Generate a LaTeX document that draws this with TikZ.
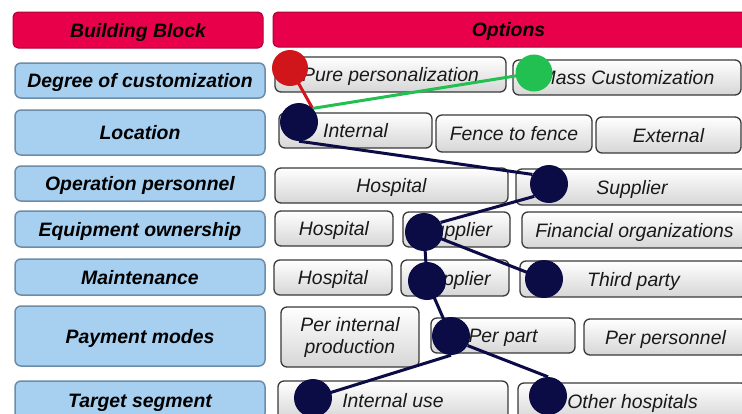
\documentclass[tikz,border=0pt]{standalone}
\usepackage{fontspec}
\setmainfont{Liberation Sans}
\definecolor{hdrred}{HTML}{E8004B}
\definecolor{bluefill}{HTML}{A7D0F0}
\definecolor{blueedge}{HTML}{6C8CA8}
\definecolor{optedge}{HTML}{3A3A3A}
\definecolor{optgray}{HTML}{D6D6D6}
\definecolor{navy}{HTML}{0B0B45}
\definecolor{dotred}{HTML}{D0161B}
\definecolor{dotgreen}{HTML}{22C050}
\pgfdeclarelayer{lines}
\pgfdeclarelayer{dots}
\pgfsetlayers{main,lines,dots}
\begin{document}
\begin{tikzpicture}[x=1pt,y=-1pt,
  oneline/.style={text height=14pt, text depth=0pt},
  lbl/.style={draw=blueedge, line width=1.5pt, fill=bluefill, rounded corners=6pt,
    font=\fontsize{19.4}{22}\selectfont\bfseries\itshape, inner sep=0pt, align=center,
    minimum width=250pt, oneline},
  hdr/.style={draw=hdrred!75!black, line width=1pt, fill=hdrred, rounded corners=5pt,
    font=\fontsize{19.4}{22}\selectfont\bfseries\itshape, inner sep=0pt, align=center, oneline},
  optbase/.style={draw=optedge, line width=1.3pt, top color=white, bottom color=optgray,
    rounded corners=6pt, font=\fontsize{19.4}{22}\selectfont\itshape, inner sep=0pt,
    align=center, text=black!90},
  opt/.style={optbase, oneline},
  dot/.style={circle, fill=navy, minimum size=38pt, inner sep=0pt},
  link/.style={line width=3pt, navy}]
\useasboundingbox (0,0) rectangle (742,413);
\clip (0,0) rectangle (742,413);
\fill[white] (0,0) rectangle (742,413);
% headers
\node[hdr, minimum width=250pt, minimum height=36pt] (hb) at (138,30) {Building Block};
\node[hdr, minimum width=477pt, minimum height=35pt] (ho) at (511.5,29.5) {\hspace*{-6pt}Options};
% building blocks
\node[lbl, minimum height=35pt] (bdeg) at (140,80.5) {Degree of customization};
\node[lbl, minimum height=45pt] (bloc) at (140,132.5) {Location};
\node[lbl, minimum height=35pt] (bop) at (140,183.5) {Operation personnel};
\node[lbl, minimum height=36pt] (beq) at (140,229) {Equipment ownership};
\node[lbl, minimum height=36pt] (bmt) at (140,277) {Maintenance};
\node[lbl, minimum height=60pt] (bpay) at (140,336) {Payment modes};
\node[lbl, minimum height=38pt] (btar) at (140,400) {Target segment};
% options
\node[opt, minimum width=231pt, minimum height=35pt] (pure) at (390.5,74.5) {Pure personalization};
\node[opt, minimum width=228pt, minimum height=35pt] (mass) at (627,77.5) {Mass Customization};
\node[opt, minimum width=153pt, minimum height=35pt] (intl) at (355.5,130.5) {Internal};
\node[opt, minimum width=156pt, minimum height=37pt] (fence) at (514,133.5) {Fence to fence};
\node[opt, minimum width=145pt, minimum height=36pt] (ext) at (668.5,135) {External};
\node[opt, minimum width=233pt, minimum height=35pt] (ophosp) at (391.5,185.5) {Hospital};
\node[opt, minimum width=232pt, minimum height=36pt] (opsup) at (632,187) {Supplier};
\node[opt, minimum width=118pt, minimum height=35pt] (eqhosp) at (334,228.5) {Hospital};
\node[opt, minimum width=107pt, minimum height=35pt] (eqsup) at (456.5,229.5) {Supplier};
\node[opt, minimum width=225pt, minimum height=36pt] (eqfin) at (634.5,230) {Financial organizations};
\node[opt, minimum width=118pt, minimum height=35pt] (mhosp) at (333,277.5) {Hospital};
\node[opt, minimum width=108pt, minimum height=36pt] (msup) at (455,278) {Supplier};
\node[opt, minimum width=227pt, minimum height=36pt] (mthird) at (633.5,279) {Third party};
\node[optbase, minimum width=138pt, minimum height=60pt] (pint) at (350,337) {Per internal\\production};
\node[opt, minimum width=144pt, minimum height=35pt] (ppart) at (503,335.5) {Per part};
\node[opt, minimum width=163pt, minimum height=36pt] (ppers) at (665.5,337) {Per personnel};
\node[opt, minimum width=230pt, minimum height=39pt] (tint) at (393,400.5) {Internal use};
\node[opt, minimum width=229pt, minimum height=37pt] (toth) at (632.5,401.5) {Other hospitals};
% dots
\begin{pgfonlayer}{dots}
\node[circle, fill=dotred, minimum size=36pt, inner sep=0pt] (rdot) at (290,68) {};
\node[circle, fill=dotgreen, minimum size=37pt, inner sep=0pt] (gdot) at (534,73) {};
\node[dot] (d1) at (299,122) {};
\node[dot] (d2) at (549,184) {};
\node[dot] (d3) at (424,232) {};
\node[dot] (d4) at (427,281) {};
\node[dot] (d5) at (544,279) {};
\node[dot] (d6) at (451,336) {};
\node[dot] (d7) at (313,398) {};
\node[dot] (d8) at (548,396) {};
\end{pgfonlayer}
% links
\begin{pgfonlayer}{lines}
\draw[line width=3pt, dotred] (rdot.center) -- (d1.45);
\draw[line width=3pt, dotgreen] (d1.45) -- (gdot.center);
\draw[link] (d1.south) -- (d2.150);
\draw[link] (d2.220) -- (d3.30);
\draw[link] (d3.center) -- (d5.center);
\draw[link] (d3.center) -- (d4.center);
\draw[link] (d4.center) -- (d6.center);
\draw[link] (d6.south) -- (d7.center);
\draw[link] (d6.-30) -- (d8.north);
\end{pgfonlayer}
\end{tikzpicture}
\end{document}
